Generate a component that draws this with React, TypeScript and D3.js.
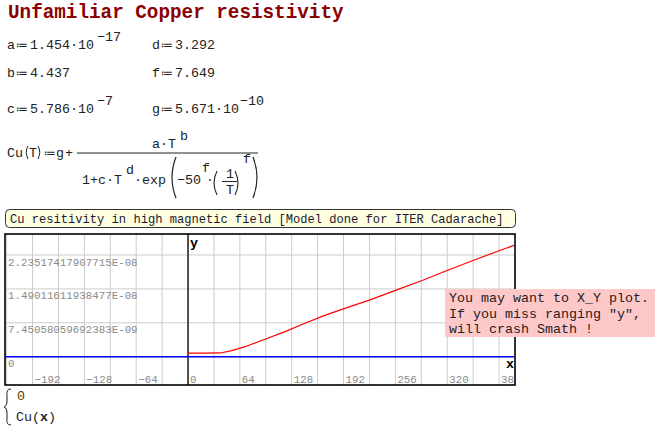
import React from "react";
import * as d3 from "d3";

// ---- data ----
const xDomain: [number, number] = [-226, 403.7];
const yDomain: [number, number] = [-6.22e-9, 2.697e-8];
const xGridValues = d3.range(-224, 404, 32);
const xTickValues = [-192, -128, -64, 0, 64, 128, 192, 256, 320, 384];
const yTickValues = [0, 7.45058059692383e-9, 1.49011611938477e-8, 2.23517417907715e-8];
const yTickLabels = ["0", "7.45058059692383E-09", "1.49011611938477E-08", "2.23517417907715E-08"];
const zeroT = [-226, 403.7];
const zeroValues = [0, 0];
const cuT = [0, 20, 39.8, 54, 70.4, 95, 119.8, 144.4, 167, 191.7, 224.7, 257.7, 289.8, 321.4, 354.3, 387.3, 405];
const cuRho = [0.8e-9, 0.8e-9, 0.82e-9, 1.32e-9, 2.2e-9, 3.83e-9, 5.51e-9, 7.36e-9, 8.97e-9, 1.051e-8, 1.25e-8, 1.47e-8, 1.68e-8, 1.905e-8, 2.131e-8, 2.352e-8, 2.462e-8];

const MONO = "'Liberation Mono', 'Courier New', monospace";
const SYM = "'DejaVu Sans', sans-serif";
const INK = "#222";

export default function App() {
  const L = 5, T = 234, R = 515, B = 385;
  const x = d3.scaleLinear().domain(xDomain).range([L, R]);
  const y = d3.scaleLinear().domain(yDomain).range([B, T]);
  const line = d3
    .line<[number, number]>()
    .x((d) => x(d[0]))
    .y((d) => y(d[1]));
  const cuPath = line(cuT.map((t, i) => [t, cuRho[i]]) as [number, number][]) || "";
  const zeroPath = line(zeroT.map((t, i) => [t, zeroValues[i]]) as [number, number][]) || "";

  const m = { fontFamily: MONO, fontSize: 13.33, fill: INK } as const;
  const sym = { fontFamily: SYM, fontSize: 12, fill: INK } as const;

  const assign = (px: number, base: number, name: string, val: string, sup?: string, supX?: number) => (
    <g>
      <text x={px} y={base} {...m}>{name}</text>
      <text x={px + 9} y={base} {...sym}>≔</text>
      <text x={px + 23} y={base} {...m}>{val}</text>
      {sup && (
        <text x={supX} y={base - 8} {...m}>{sup}</text>
      )}
    </g>
  );

  return (
    <svg
      width={662}
      height={428}
      style={{ position: "absolute", left: 0, top: 0, background: "#fff" }}
    >
      <defs>
        <clipPath id="plotClip">
          <rect x={L} y={T} width={R - L - 1} height={B - T} />
        </clipPath>
      </defs>
      <rect x={0} y={0} width={662} height={428} fill="#fff" />

      {/* Title */}
      <text x={8} y={18} fontFamily={MONO} fontSize={19.3} fontWeight="bold" fill="#8B0000">
        Unfamiliar Copper resistivity
      </text>

      {/* Parameters */}
      {assign(7, 49, "a", "1.454·10", "−17", 97)}
      {assign(152, 49, "d", "3.292")}
      {assign(7, 77, "b", "4.437")}
      {assign(152, 77, "f", "7.649")}
      {assign(7, 113, "c", "5.786·10", "−7", 97)}
      {assign(152, 113, "g", "5.671·10", "−10", 240)}

      {/* Formula */}
      <text x={7} y={157} {...m}>Cu</text>
      <path d="M28,146 Q24.5,152 28,159" fill="none" stroke={INK} strokeWidth={1} />
      <text x={29} y={157} {...m}>T</text>
      <path d="M38,146 Q41.5,152 38,159" fill="none" stroke={INK} strokeWidth={1} />
      <text x={44} y={157} {...sym}>≔</text>
      <text x={56} y={157} {...m}>g</text>
      <text x={65} y={157} {...m}>+</text>
      <line x1={77} x2={258} y1={153} y2={153} stroke={INK} strokeWidth={1} />
      <text x={152} y={148} {...m}>a·T</text>
      <text x={180} y={140} {...m}>b</text>
      <text x={82} y={184} {...m}>1+c·T</text>
      <text x={126} y={174} {...m}>d</text>
      <text x={134} y={184} {...m}>·exp</text>
      <path d="M176,157 Q168,177.5 176,198" fill="none" stroke={INK} strokeWidth={1.2} />
      <text x={177} y={184} {...m}>−50</text>
      <text x={202} y={172} {...m}>f</text>
      <circle cx={210} cy={180} r={0.9} fill={INK} />
      <path d="M217,171 Q211,183 217,195" fill="none" stroke={INK} strokeWidth={1.1} />
      <text x={226} y={178} {...m}>1</text>
      <line x1={222} x2={237} y1={181.5} y2={181.5} stroke={INK} strokeWidth={1} />
      <text x={226} y={194} {...m}>T</text>
      <path d="M235,171 Q241,183 235,195" fill="none" stroke={INK} strokeWidth={1.1} />
      <text x={243} y={163} {...m}>f</text>
      <path d="M253,157 Q261,177.5 253,198" fill="none" stroke={INK} strokeWidth={1.2} />

      {/* Caption box */}
      <rect x={5.5} y={209.5} width={510} height={18} rx={4} fill="#FFFFE1" stroke="#333" strokeWidth={1} />
      <text x={10} y={223} fontFamily={MONO} fontSize={12.1} fill="#1a1a33">
        Cu resitivity in high magnetic field [Model done for ITER Cadarache]
      </text>

      {/* Plot */}
      <g clipPath="url(#plotClip)">
        {xGridValues.map((v) => (
          <line key={"gx" + v} x1={x(v)} x2={x(v)} y1={T} y2={B} stroke="#CCCCCC" strokeWidth={1} />
        ))}
        {yTickValues.map((v) => (
          <line key={"gy" + v} x1={L} x2={R} y1={y(v)} y2={y(v)} stroke="#CCCCCC" strokeWidth={1} />
        ))}
        {yTickValues.map((v, i) => (
          <text key={"ly" + i} x={8} y={y(v) + 10.5} fontFamily={MONO} fontSize={10.8} fill="#8a8a8a">
            {yTickLabels[i]}
          </text>
        ))}
        {xTickValues.map((v) => (
          <text key={"lx" + v} x={x(v) + 2} y={383} fontFamily={MONO} fontSize={10.8} fill="#8a8a8a">
            {v < 0 ? "−" + Math.abs(v) : String(v)}
          </text>
        ))}
        <line x1={x(0)} x2={x(0)} y1={T} y2={B} stroke="#000" strokeWidth={1.3} />
        <path d={zeroPath} fill="none" stroke="#0000FF" strokeWidth={1.5} />
        <path d={cuPath} fill="none" stroke="#FF0000" strokeWidth={1.2} />
        <text x={x(0) + 2} y={247} fontFamily={MONO} fontSize={13.33} fontWeight="bold" fill="#000">y</text>
        <text x={506} y={368} fontFamily={MONO} fontSize={13.33} fontWeight="bold" fill="#000">x</text>
      </g>
      <rect x={L} y={T} width={R - L} height={B - T} fill="none" stroke="#000" strokeWidth={1.6} />

      {/* Note box */}
      <rect x={445} y={289} width={210} height={48} fill="#FFC8C8" />
      <text x={449} y={302} {...m}>You may want to X_Y plot.</text>
      <text x={449} y={318} {...m}>If you miss ranging "y",</text>
      <text x={449} y={333} {...m}>will crash Smath !</text>

      {/* Function list */}
      <path d="M11,389 Q6,389 7,395 L7,402 Q7,406 4,407 Q7,408 7,412 L7,419 Q6,425 11,425" fill="none" stroke={INK} strokeWidth={1} />
      <text x={17} y={400} {...m} fill="#5a3a00">0</text>
      <text x={16} y={421} {...m}>Cu(</text>
      <text x={40} y={421} {...m} fontWeight="bold">x</text>
      <text x={48} y={421} {...m}>)</text>
    </svg>
  );
}
